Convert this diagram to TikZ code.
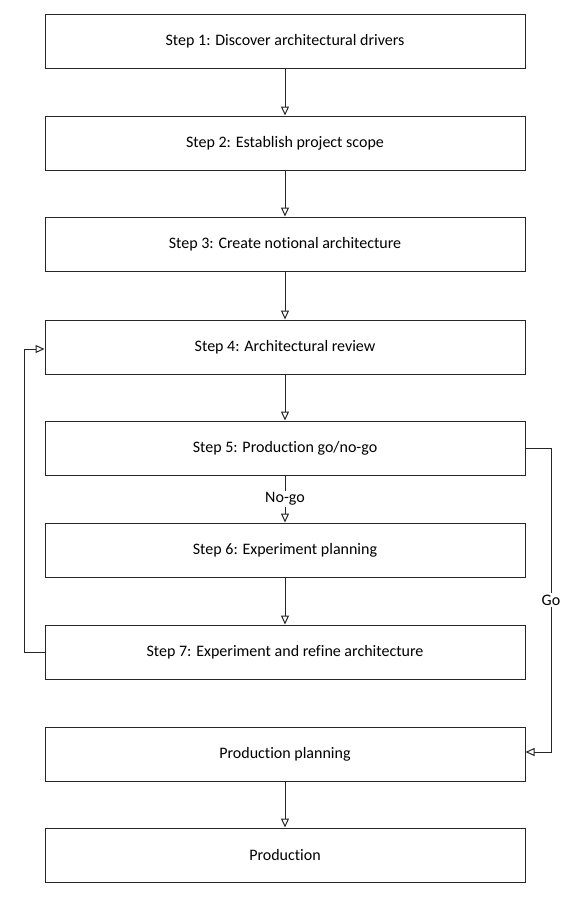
\documentclass[tikz,border=0pt]{standalone}
\usepackage{fontspec}
\setmainfont{Carlito}[Ligatures={NoCommon}]
\usetikzlibrary{arrows.meta}
\tikzset{
  stepbox/.style={draw=black!85, line width=1pt, minimum width=480pt, minimum height=54pt, inner sep=0pt, font=\fontsize{16}{18}\selectfont, fill=white},
  conn/.style={draw=black!85, line width=1pt, -{Triangle[open, length=9pt, width=8pt]}},
  lbl/.style={fill=white, inner sep=1.5pt, font=\fontsize{16}{18}\selectfont}
}
\begin{document}
\begin{tikzpicture}[x=1pt,y=-1pt]
\useasboundingbox (0,0) rectangle (581,906);
\node[stepbox] (s1) at (285,41) {Step 1: Discover architectural drivers};
\node[stepbox] (s2) at (285,143) {Step 2: Establish project scope};
\node[stepbox] (s3) at (285,244) {Step 3: Create notional architecture};
\node[stepbox] (s4) at (285,347) {Step 4: Architectural review};
\node[stepbox] (s5) at (285,448) {Step 5: Production go/no-go};
\node[stepbox] (s6) at (285,550) {Step 6: Experiment planning};
\node[stepbox] (s7) at (285,652) {Step 7: Experiment and refine architecture};
\node[stepbox] (pp) at (285,754) {Production planning};
\node[stepbox] (pr) at (285,855) {Production};
\draw[conn] (s1) -- (s2);
\draw[conn] (s2) -- (s3);
\draw[conn] (s3) -- (s4);
\draw[conn] (s4) -- (s5);
\draw[conn] (s5) -- node[lbl, pos=0.5] (ng) {No-go} (s6);
\draw[conn] (s6) -- (s7);
\draw[conn] (pp) -- (pr);
\coordinate (la) at (24,652);
\coordinate (lb) at (24,349);
\draw[conn] (s7.west) -- (la) -- (lb) -- (s4.west |- lb);
\coordinate (ra) at (551,448);
\coordinate (rb) at (551,752);
\draw[conn] (s5.east) -- (ra) -- node[lbl, pos=0.5] (go) {Go} (rb) -- (pp.east |- rb);
\end{tikzpicture}
\end{document}
